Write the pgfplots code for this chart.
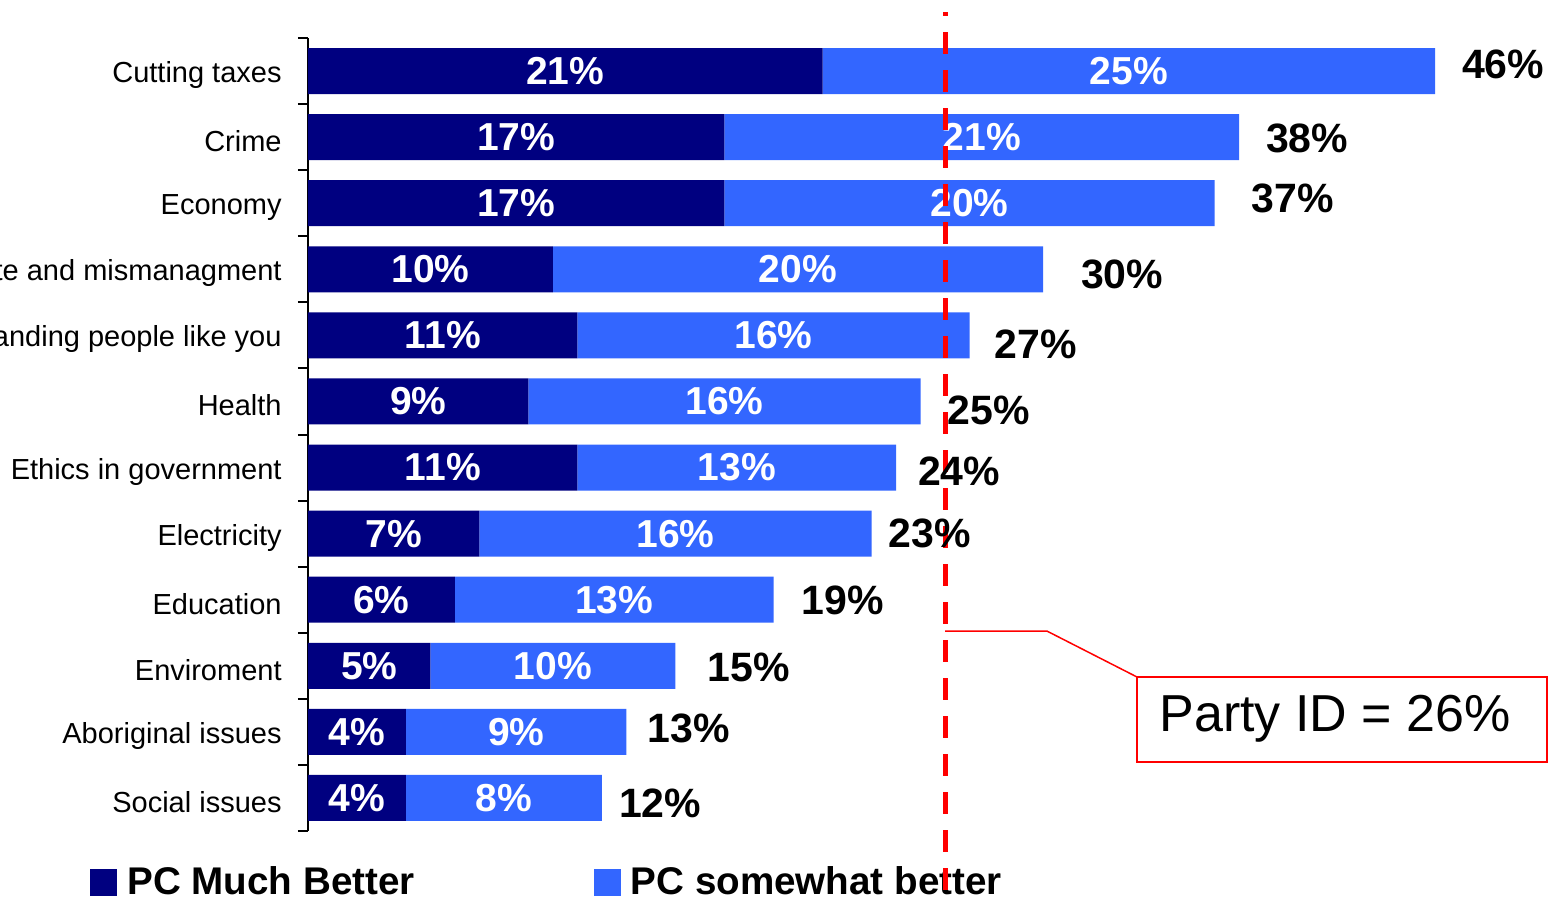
\documentclass[border=0pt]{standalone}
\usepackage{pgfplots}
\pgfplotsset{compat=1.18}
\usepackage{pgfplotstable}
\usepackage{fontspec}
\setmainfont{Liberation Sans}
\definecolor{navyb}{RGB}{0,0,128}
\definecolor{lightb}{RGB}{51,102,255}
\definecolor{redl}{RGB}{255,0,0}

\pgfplotstableread{
idx much some total dx dy
0 21 25 46 26 -6.5
1 17 21 38 26 1.5
2 17 20 37 36 -4.5
3 10 20 30 37 5
4 11 16 27 24 8.5
5 9 16 25 26 8.5
6 11 13 24 21 3.5
7 7 16 23 16 0
8 6 13 19 27 0.5
9 5 10 15 31 2
10 4 9 13 20 -3.5
11 4 8 12 16 5.5
}\data

\pgfplotsset{base/.style={
  at={(0,0)}, anchor=south west,
  scale only axis, width=612.5pt, height=396.5pt,
  xmin=0, xmax=50, ymin=-0.5, ymax=11.5, y dir=reverse,
  clip=false}}

\begin{document}
\begin{tikzpicture}
\begin{axis}[base,
  xbar stacked, bar width=23pt,
  axis x line=none, axis y line*=left,
  y axis line style={line width=1pt, -},
  xtick=\empty,
  ytick={0,...,11},
  yticklabels={Cutting taxes, Crime, Economy, Waste and mismanagment, Understanding people like you, Health, Ethics in government, Electricity, Education, Enviroment, Aboriginal issues, Social issues},
  major tick length=0pt,
  minor ytick={-0.5,0.5,...,11.5},
  minor tick length=5pt,
  tick align=outside,
  minor tick style={line width=1pt, black},
  yticklabel style={font=\fontsize{14.5}{17}\selectfont, inner sep=0pt, xshift=-13pt, yshift=-2pt},
  legend columns=2,
  legend image code/.code={\fill[#1] (0pt,-6.75pt) rectangle (13.5pt,6.75pt);},
  legend style={draw=none, fill=none, inner sep=0pt, at={(0,0)}, anchor=west,
    xshift=-109pt, yshift=-25.5pt,
    font=\bfseries\fontsize{19.3}{22}\selectfont,
    nodes={inner sep=0pt},
    /tikz/every odd column/.append style={column sep=5pt},
    /tikz/every even column/.append style={column sep=89.5pt}},
]
\addplot[fill=navyb, draw=none, point meta=explicit symbolic,
  nodes near coords={\pgfplotspointmeta\%},
  nodes near coords style={font=\bfseries\fontsize{19.5}{22}\selectfont, text=white, anchor=center}]
  table[x=much, y=idx, meta=much] {\data};
\addplot[fill=lightb, draw=none, point meta=explicit symbolic,
  nodes near coords={\pgfplotspointmeta\%},
  nodes near coords style={font=\bfseries\fontsize{19.5}{22}\selectfont, text=white, anchor=center}]
  table[x=some, y=idx, meta=some] {\data};
\legend{PC Much Better, PC somewhat better}
\coordinate (bbsw) at (axis cs:-12.571,12.529);
\coordinate (bbne) at (axis cs:51.102,-1.075);
\end{axis}
\begin{axis}[base, axis lines=none, xtick=\empty, ytick=\empty]
\addplot[draw=none, mark=none, point meta=explicit symbolic,
  visualization depends on={\thisrow{dx}\as\dxv},
  visualization depends on={\thisrow{dy}\as\dyv},
  nodes near coords={\pgfplotspointmeta\%},
  nodes near coords style={font=\bfseries\fontsize{20.5}{24}\selectfont, text=black, anchor=west,
    xshift={(\dxv-6)*0.5pt}, yshift={-\dyv*0.5pt}}]
  table[x=total, y=idx, meta=total] {\data};
\draw[redl, line width=2.5pt, dash pattern=on 11pt off 8pt, dash phase=9pt] (axis cs:26,-0.893) -- (axis cs:26,12.53);
\draw[redl, line width=0.75pt] (axis cs:26,8.474) -- (axis cs:30.16,8.474) -- (axis cs:33.84,9.17);
\draw[redl, line width=1pt] (axis cs:33.84,9.17) rectangle (axis cs:50.57,10.456);
\node[font=\fontsize{26}{30}\selectfont] at (axis cs:41.92,9.806) {Party ID = 26\%};
\end{axis}
\pgfresetboundingbox
\useasboundingbox (bbsw) rectangle (bbne);
\end{tikzpicture}
\end{document}
